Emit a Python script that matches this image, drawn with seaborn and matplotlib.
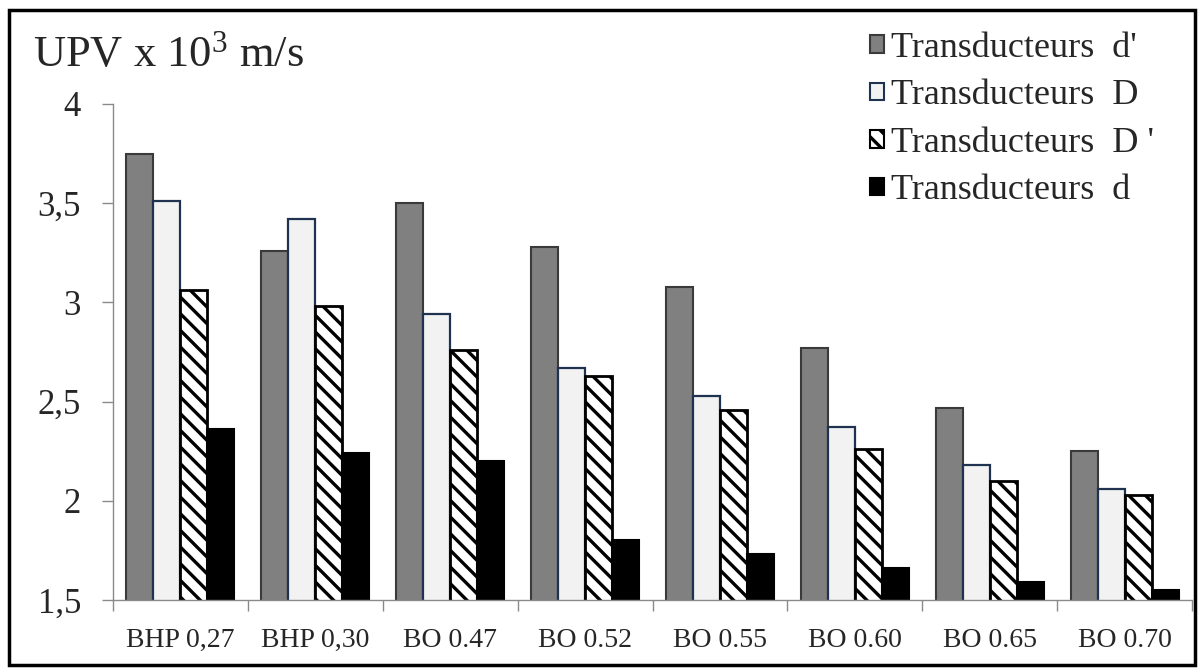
import pandas as pd
import numpy as np
import seaborn as sns
import matplotlib.pyplot as plt
from matplotlib.patches import Rectangle, Patch
from matplotlib.ticker import FixedLocator

# data
categories = ['BHP 0,27', 'BHP 0,30', 'BO 0.47', 'BO 0.52', 'BO 0.55', 'BO 0.60', 'BO 0.65', 'BO 0.70']
series = ["Transducteurs  d'", "Transducteurs  D", "Transducteurs  D '", "Transducteurs  d"]
d_prime = [3.75, 3.26, 3.50, 3.28, 3.08, 2.77, 2.47, 2.25]
D_big = [3.51, 3.42, 2.94, 2.67, 2.53, 2.37, 2.18, 2.06]
D_prime = [3.06, 2.98, 2.76, 2.63, 2.46, 2.26, 2.10, 2.03]
d_small = [2.36, 2.24, 2.20, 1.80, 1.73, 1.66, 1.59, 1.55]
y_ticks = [1.5, 2, 2.5, 3, 3.5, 4]
y_tick_labels = ['1,5', '2', '2,5', '3', '3,5', '4']

sns.set_style('white')
plt.rcParams['font.family'] = ['Liberation Serif', 'DejaVu Serif']
plt.rcParams['mathtext.fontset'] = 'custom'
plt.rcParams['mathtext.rm'] = 'Liberation Serif'
plt.rcParams['mathtext.it'] = 'Liberation Serif:italic'
plt.rcParams['hatch.linewidth'] = 2.4

df = pd.DataFrame({
    'cat': categories * 4,
    'serie': np.repeat(series, len(categories)),
    'val': d_prime + D_big + D_prime + d_small,
})

fig = plt.figure(figsize=(12, 6.72), dpi=100)
ax = fig.add_axes([113 / 1200, 1 - 600 / 672, 1079 / 1200, 496 / 672])

sns.barplot(data=df, x='cat', y='val', hue='serie', order=categories,
            hue_order=series, width=0.8, ax=ax, legend=False)

# styles per series
styles = [
    dict(facecolor='#808080', edgecolor='#3a3a3a', hatch=None, lw=1.5),
    dict(facecolor='#f2f2f2', edgecolor='#1f3350', hatch=None, lw=1.6),
    dict(facecolor='white', edgecolor='black', hatch='\\\\', lw=2.0),
    dict(facecolor='black', edgecolor='black', hatch=None, lw=1.5),
]
for cont, st in zip(ax.containers, styles):
    for bar in cont:
        bar.set_facecolor(st['facecolor'])
        bar.set_edgecolor(st['edgecolor'])
        bar.set_linewidth(st['lw'])
        if st['hatch']:
            bar.set_hatch(st['hatch'])

ax.set_ylim(1.5, 4)
ax.set_xlim(-0.5, len(categories) - 0.5)
ax.set_yticks(y_ticks)
ax.set_yticklabels(y_tick_labels, fontsize=25)
ax.tick_params(axis='y', length=8, width=1, color='#8a8a8a', pad=15, left=True)

# x: labels at centers, tick marks at group boundaries
ax.set_xticks(np.arange(len(categories)))
ax.set_xticklabels(categories, fontsize=20)
ax.tick_params(axis='x', which='major', length=0, pad=20)
ax.xaxis.set_minor_locator(FixedLocator(np.arange(len(categories) + 1) - 0.5))
ax.tick_params(axis='x', which='minor', length=8, width=1, color='#8a8a8a', bottom=True)

ax.set_xlabel('')
ax.set_ylabel('')
for s in ['top', 'right']:
    ax.spines[s].set_visible(False)
for s in ['left', 'bottom']:
    ax.spines[s].set_color('#8a8a8a')
    ax.spines[s].set_linewidth(1)

fig.text(33 / 1200, 1 - 66 / 672, r'UPV x 10$^{3}$ m/s', fontsize=32, va='baseline')

handles = [Patch(facecolor=st['facecolor'], edgecolor=st['edgecolor'],
                 hatch=st['hatch'], linewidth=1.5) for st in styles]
fig.legend(handles, series, loc='upper left', bbox_to_anchor=(870 / 1200, 1 - 32 / 672),
           frameon=False, fontsize=26, handlelength=0.38, handleheight=0.38,
           handletextpad=0.2, labelspacing=0.4, borderpad=0, borderaxespad=0)

# outer black frame
fig.patches.append(Rectangle((9 / 1200, 7 / 672), 1186 / 1200, 655 / 672,
                             transform=fig.transFigure, fill=False,
                             edgecolor='black', linewidth=2.5))

fig.savefig('out.png', dpi=100)
